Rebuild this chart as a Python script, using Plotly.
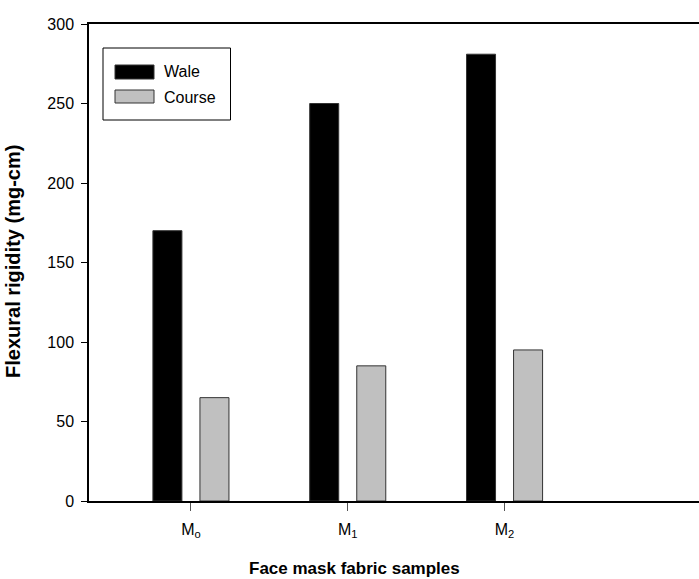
import plotly.graph_objects as go

categories = ["M<sub>o</sub>", "M<sub>1</sub>", "M<sub>2</sub>"]
series_names = ["Wale", "Course"]
wale = [170, 250, 281]
course = [65, 85, 95]
y_ticks = [0, 50, 100, 150, 200, 250, 300]

xpos = list(range(len(categories)))
FONT = "Liberation Sans, Arial, sans-serif"
COLORS = ["black", "#c0c0c0"]

# plot-area geometry in pixels
L, T, R, B, W, H = 89, 24, 0, 78, 699, 579
PW, PH = W - L - R, H - T - B


def px(x):
    return (x - L) / PW


def py(y):
    return (H - B - y) / PH


fig = go.Figure()
fig.add_trace(go.Bar(
    x=xpos, y=wale, name=series_names[0], width=0.185, offset=-0.2425,
    marker=dict(color=COLORS[0], line=dict(color="#333333", width=1)),
))
fig.add_trace(go.Bar(
    x=xpos, y=course, name=series_names[1], width=0.185, offset=0.0575,
    marker=dict(color=COLORS[1], line=dict(color="#333333", width=1)),
))

# legend drawn as box + swatches + labels
shapes = [dict(type="rect", xref="paper", yref="paper",
               x0=px(103), x1=px(230.5), y0=py(120), y1=py(48),
               line=dict(color="black", width=1), fillcolor="white", layer="above")]
annotations = []
rows = [(65, 79, 72), (90, 103, 97)]
for name, color, (s0, s1, ty) in zip(series_names, COLORS, rows):
    shapes.append(dict(type="rect", xref="paper", yref="paper",
                       x0=px(115), x1=px(154), y0=py(s1), y1=py(s0),
                       line=dict(color="#333333", width=1), fillcolor=color, layer="above"))
    annotations.append(dict(text=name, xref="paper", yref="paper", x=px(162), y=py(ty),
                            xanchor="left", yanchor="middle", showarrow=False,
                            font=dict(size=16)))

annotations.append(dict(
    text="<b>Face mask fabric samples</b>", xref="paper", yref="paper",
    x=px(354), y=py(568), xanchor="center", yanchor="middle",
    showarrow=False, font=dict(size=17),
))
annotations.append(dict(
    text="<b>Flexural rigidity (mg-cm)</b>", xref="paper", yref="paper",
    x=px(13), y=py(262), xanchor="center", yanchor="middle", textangle=-90,
    showarrow=False, font=dict(size=20),
))

fig.update_layout(
    width=W, height=H,
    margin=dict(l=L, r=R, t=T, b=B),
    paper_bgcolor="white", plot_bgcolor="white",
    font=dict(family=FONT, size=16, color="black"),
    barmode="overlay",
    showlegend=False,
    xaxis=dict(
        range=[-0.65, 3.24], tickmode="array", tickvals=xpos, ticktext=categories,
        showline=True, linecolor="black", linewidth=1.5, mirror=True,
        ticks="outside", ticklen=8, tickcolor="#555555", tickwidth=1,
        showgrid=False, zeroline=False, ticklabelstandoff=5,
        tickfont=dict(size=16),
    ),
    yaxis=dict(
        range=[0, 300], tickmode="array", tickvals=y_ticks,
        showline=True, linecolor="black", linewidth=1.5,
        ticks="outside", ticklen=6, tickcolor="black", tickwidth=1,
        showgrid=False, zeroline=False, ticklabelstandoff=4,
        tickfont=dict(size=16),
    ),
    shapes=shapes,
    annotations=annotations,
)

fig.write_html("out.html", config={"displayModeBar": False},
               post_script="document.body.style.margin='0';")
